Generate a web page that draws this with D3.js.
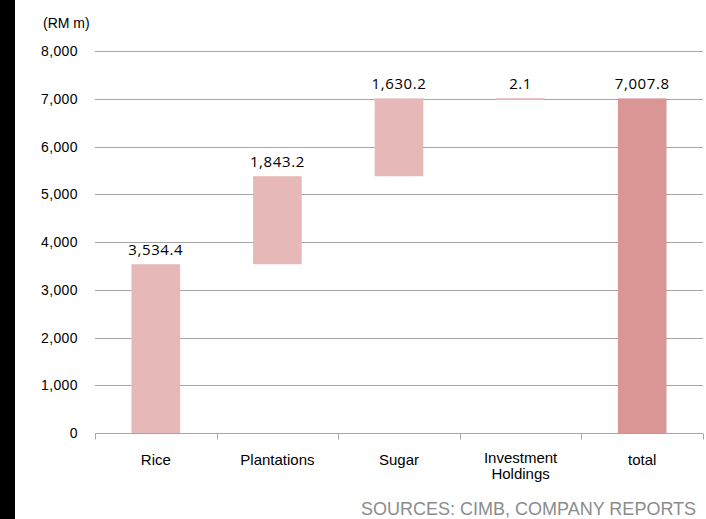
<!DOCTYPE html>
<html>
<head>
<meta charset="utf-8">
<script src="https://cdn.jsdelivr.net/npm/d3@7"></script>
<style>
  html, body { margin: 0; padding: 0; background: #fff; }
  svg { display: block; }
</style>
</head>
<body>
<svg id="chart" width="706" height="519"></svg>
<script>
// Segment contributions (RM m) and the overall total
const categories = ["Rice", "Plantations", "Sugar", "Investment\nHoldings", "total"];
const values = [3534.4, 1843.2, 1630.2, 2.1, 7007.8];
const labels = ["3,534.4", "1,843.2", "1,630.2", "2.1", "7,007.8"];
const isTotal = [false, false, false, false, true];
const yTicks = [0, 1000, 2000, 3000, 4000, 5000, 6000, 7000, 8000];

const svg = d3.select("#chart");
const W = 706, H = 519;
const m = { left: 95, right: 3, top: 51, bottom: 86 };
const sans = "Liberation Sans, Arial, sans-serif";

// left black strip
svg.append("rect").attr("x", 0).attr("y", 0).attr("width", 15).attr("height", H).attr("fill", "#000");

const x = d3.scaleBand().domain(categories).range([m.left, W - m.right]).paddingInner(0.6).paddingOuter(0.3);
const y = d3.scaleLinear().domain([0, 8000]).range([H - m.bottom, m.top]);

// waterfall extents
let run = 0;
const bars = categories.map((c, i) => {
  let lo, hi;
  if (isTotal[i]) { lo = 0; hi = values[i]; }
  else { lo = run; hi = run + values[i]; run = hi; }
  return { c, lo, hi, label: labels[i], total: isTotal[i] };
});

// gridlines
svg.append("g").selectAll("line").data(yTicks.filter(d => d > 0)).join("line")
  .attr("x1", m.left).attr("x2", W - m.right)
  .attr("y1", d => Math.round(y(d)) + 0.5).attr("y2", d => Math.round(y(d)) + 0.5)
  .attr("stroke", "#a6a6a6").attr("stroke-width", 1);

// y tick labels
svg.append("g").selectAll("text").data(yTicks).join("text")
  .attr("x", 78).attr("y", d => y(d) + 5)
  .attr("text-anchor", "end")
  .attr("font-family", sans).attr("font-size", 14).attr("letter-spacing", 0.4)
  .attr("fill", "#000")
  .text(d => d3.format(",")(d));

svg.append("text").attr("x", 43).attr("y", 28)
  .attr("font-family", sans).attr("font-size", 14)
  .attr("fill", "#000").text("(RM m)");

// bars
svg.append("g").selectAll("rect").data(bars).join("rect")
  .attr("x", d => x(d.c)).attr("width", x.bandwidth())
  .attr("y", d => y(d.hi)).attr("height", d => Math.max(1.5, y(d.lo) - y(d.hi)))
  .attr("fill", d => d.total ? "#da9694" : "#e6b8b7");

// value labels
svg.append("g").selectAll("text").data(bars).join("text")
  .attr("x", d => x(d.c) + x.bandwidth() / 2).attr("y", d => y(d.hi) - 9)
  .attr("text-anchor", "middle")
  .attr("font-family", "Open Sans, Noto Sans, sans-serif").attr("font-size", 15).attr("letter-spacing", 0.6)
  .attr("fill", "#000").text(d => d.label);

// x axis baseline and category-boundary ticks
const x0 = Math.round(y(0)) + 0.5;
svg.append("line").attr("x1", m.left).attr("x2", W - m.right).attr("y1", x0).attr("y2", x0)
  .attr("stroke", "#a6a6a6");
const bounds = d3.range(categories.length + 1).map(i => m.left + i * (W - m.right - m.left) / categories.length);
svg.append("g").selectAll("line").data(bounds).join("line")
  .attr("x1", d => Math.round(d) + 0.5).attr("x2", d => Math.round(d) + 0.5)
  .attr("y1", x0).attr("y2", x0 + 6).attr("stroke", "#a6a6a6");

// category labels
const cl = svg.append("g").selectAll("text").data(categories).join("text")
  .attr("text-anchor", "middle")
  .attr("font-family", sans).attr("font-size", 15)
  .attr("fill", "#000")
  .attr("transform", d => `translate(${x(d) + x.bandwidth() / 2},${d.includes("\n") ? 463 : 465})`);
cl.selectAll("tspan").data(d => d.split("\n")).join("tspan")
  .attr("x", 0).attr("dy", (d, i) => i === 0 ? 0 : 16).text(d => d);

// source note
svg.append("text").attr("x", 361).attr("y", 515)
  .attr("font-family", sans).attr("font-size", 18)
  .attr("fill", "#8c8c8c").text("SOURCES: CIMB, COMPANY REPORTS");
</script>
</body>
</html>
